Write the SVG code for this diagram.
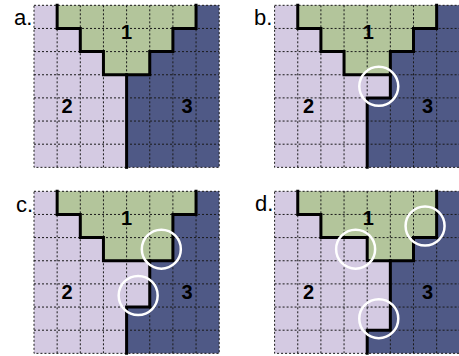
<svg xmlns="http://www.w3.org/2000/svg" width="459" height="356" viewBox="0 0 459 356">
<style>
.lav{fill:#d4cae2}
.grn{fill:#b3c59b}
.blu{fill:#4f5986}
.grid{stroke:#1a1a1a;stroke-width:1;stroke-dasharray:2 2;fill:none}
.thick{stroke:#000;stroke-width:3;fill:none;stroke-linejoin:miter;stroke-linecap:square}
.ring{stroke:#fff;stroke-width:2.5;fill:none}
.num{font-family:"Liberation Sans",Arial,sans-serif;font-weight:bold;font-size:20px;fill:#000;text-anchor:middle}
.lbl{font-family:"Liberation Sans",Arial,sans-serif;font-size:22px;fill:#000}
</style>
<defs>
<path id="gridlines" d="M0,0H185.2V162.05H0Z M23.15,0V162.05 M46.3,0V162.05 M69.45,0V162.05 M92.6,0V162.05 M115.75,0V162.05 M138.9,0V162.05 M162.05,0V162.05 M0,23.15H185.2 M0,46.3H185.2 M0,69.45H185.2 M0,92.6H185.2 M0,115.75H185.2 M0,138.9H185.2"/>
</defs>
<g id="panel-a" transform="translate(34,5.3)">
<rect class="lav" x="0" y="0" width="185.2" height="162.05"/>
<path class="grn" d="M23.15,0H162.05V23.15H138.9V46.3H115.75V69.45H69.45V46.3H46.3V23.15H23.15Z"/>
<path class="blu" d="M162.05,0H185.2V162.05H92.6V69.45H115.75V46.3H138.9V23.15H162.05Z"/>
<use href="#gridlines" class="grid"/>
<g class="connectors">
<path class="thick" d="M23.15,0V23.15H46.3V46.3H69.45V69.45H115.75V46.3H138.9V23.15H162.05V0"/>
<path class="thick" d="M92.6,69.45V162.05"/>
</g>
<text class="num" x="92.6" y="34">1</text>
<text class="num" x="33" y="108">2</text>
<text class="num" x="153" y="108">3</text>
</g>
<g id="panel-b" transform="translate(274.6,5.3)">
<rect class="lav" x="0" y="0" width="185.2" height="162.05"/>
<path class="grn" d="M23.15,0H162.05V23.15H138.9V46.3H115.75V69.45H69.45V46.3H46.3V23.15H23.15Z"/>
<path class="blu" d="M162.05,0H185.2V162.05H92.6V92.6H115.75V46.3H138.9V23.15H162.05Z"/>
<use href="#gridlines" class="grid"/>
<g class="connectors">
<path class="thick" d="M23.15,0V23.15H46.3V46.3H69.45V69.45H115.75V46.3H138.9V23.15H162.05V0"/>
<path class="thick" d="M115.75,69.45V92.6H92.6V162.05"/>
</g>
<circle class="ring" cx="104.175" cy="81.025" r="19.5"/>
<text class="num" x="93.6" y="34">1</text>
<text class="num" x="34" y="108">2</text>
<text class="num" x="153" y="108">3</text>
</g>
<g id="panel-c" transform="translate(34,191.3)">
<rect class="lav" x="0" y="0" width="185.2" height="162.05"/>
<path class="grn" d="M23.15,0H162.05V23.15H138.9V69.45H69.45V46.3H46.3V23.15H23.15Z"/>
<path class="blu" d="M162.05,0H185.2V162.05H92.6V115.75H115.75V69.45H138.9V23.15H162.05Z"/>
<use href="#gridlines" class="grid"/>
<g class="connectors">
<path class="thick" d="M23.15,0V23.15H46.3V46.3H69.45V69.45H138.9V23.15H162.05V0"/>
<path class="thick" d="M115.75,69.45V115.75H92.6V162.05"/>
</g>
<circle class="ring" cx="127.325" cy="57.875" r="19.5"/>
<circle class="ring" cx="104.175" cy="104.175" r="19.5"/>
<text class="num" x="92.6" y="33.5">1</text>
<text class="num" x="33" y="108">2</text>
<text class="num" x="153" y="108">3</text>
</g>
<g id="panel-d" transform="translate(274.6,191.3)">
<rect class="lav" x="0" y="0" width="185.2" height="162.05"/>
<path class="grn" d="M23.15,0H162.05V46.3H138.9V69.45H92.6V46.3H46.3V23.15H23.15Z"/>
<path class="blu" d="M162.05,0H185.2V162.05H92.6V138.9H115.75V69.45H138.9V46.3H162.05Z"/>
<use href="#gridlines" class="grid"/>
<g class="connectors">
<path class="thick" d="M23.15,0V23.15H46.3V46.3H92.6V69.45H138.9V46.3H162.05V0"/>
<path class="thick" d="M115.75,69.45V138.9H92.6V162.05"/>
</g>
<circle class="ring" cx="81.025" cy="57.875" r="19.5"/>
<circle class="ring" cx="150.475" cy="34.725" r="19.5"/>
<circle class="ring" cx="104.175" cy="127.325" r="19.5"/>
<text class="num" x="93.6" y="33.5">1</text>
<text class="num" x="34" y="108">2</text>
<text class="num" x="153" y="108">3</text>
</g>
<g id="labels">
<text class="lbl" x="14" y="25">a.</text>
<text class="lbl" x="254" y="25">b.</text>
<text class="lbl" x="16" y="212">c.</text>
<text class="lbl" x="255" y="211">d.</text>
</g>
</svg>
